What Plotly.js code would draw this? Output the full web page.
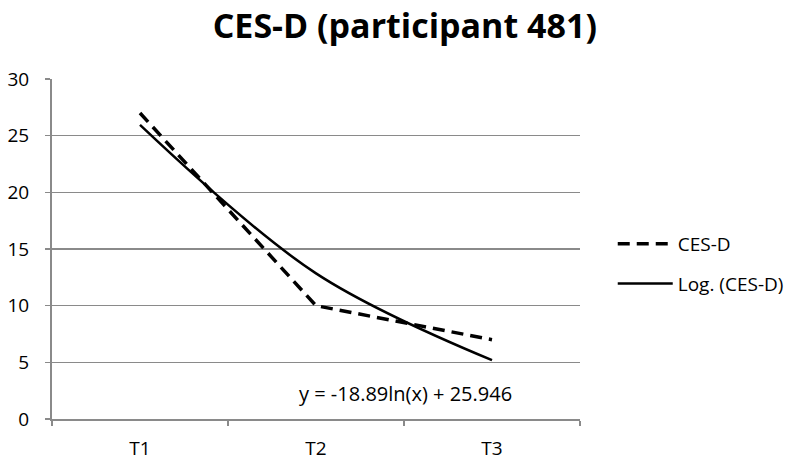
<!DOCTYPE html>
<html>
<head>
<meta charset="utf-8">
<script src="https://cdn.plot.ly/plotly-3.0.1.min.js"></script>
<style>html,body{margin:0;padding:0;background:#fff;}#chart{width:800px;height:465px;}</style>
</head>
<body>
<div id="chart"></div>
<script>
const categories = ["T1", "T2", "T3"];
const cesd = [27, 10, 7];
const logTrend = [25.946, 12.852, 5.193];
const yTicks = [0, 5, 10, 15, 20, 25, 30];
const equationText = "y = -18.89ln(x) + 25.946";
const titleText = "CES-D (participant 481)";

const font = "'Open Sans', Lato, sans-serif";

const traces = [
  {
    x: categories, y: cesd, type: "scatter", mode: "lines", name: "CES-D", legendgroup: "a",
    line: {color: "#000", width: 3.5, dash: "12px,7px"}
  },
  {
    x: categories, y: logTrend, type: "scatter", mode: "lines", name: "Log. (CES-D)", legendgroup: "b",
    line: {color: "#000", width: 2.5, shape: "spline", smoothing: 1}
  }
];

const layout = {
  width: 800, height: 465,
  margin: {l: 52, r: 219, t: 79, b: 46},
  paper_bgcolor: "#fff", plot_bgcolor: "#fff",
  font: {family: font, color: "#000", size: 19},
  title: {text: "<b>" + titleText + "</b>", x: 0.506, xref: "container", xanchor: "center",
          y: 0.944, yanchor: "middle",
          font: {family: font, size: 34, color: "#000"}},
  showlegend: true,
  legend: {x: 1.06, xanchor: "left", y: 0.456, yanchor: "middle", itemwidth: 55,
           font: {family: font, size: 19}, tracegroupgap: 12, bgcolor: "rgba(0,0,0,0)"},
  xaxis: {
    type: "category", range: [-0.5, 2.5], showgrid: false,
    showline: true, linecolor: "#8a8a8a", linewidth: 2,
    ticks: "outside", tickson: "boundaries", ticklen: 5, tickcolor: "#8a8a8a", tickwidth: 1.5,
    ticklabelstandoff: 11,
    tickfont: {family: font, size: 19}, zeroline: false, fixedrange: true
  },
  yaxis: {
    range: [0, 30], tickvals: yTicks, showgrid: true, gridcolor: "#8a8a8a", gridwidth: 1.5,
    showline: true, linecolor: "#8a8a8a", linewidth: 2,
    ticks: "outside", ticklen: 5, tickcolor: "#8a8a8a", tickwidth: 1.5,
    ticklabelstandoff: 12,
    tickfont: {family: font, size: 19}, zeroline: false, fixedrange: true
  },
  annotations: [{
    text: equationText, xref: "paper", yref: "paper", x: 0.669, y: 0.076,
    xanchor: "center", yanchor: "middle", showarrow: false,
    font: {family: font, size: 20, color: "#000"}
  }]
};

Plotly.newPlot("chart", traces, layout, {displayModeBar: false, staticPlot: true});
</script>
</body>
</html>
